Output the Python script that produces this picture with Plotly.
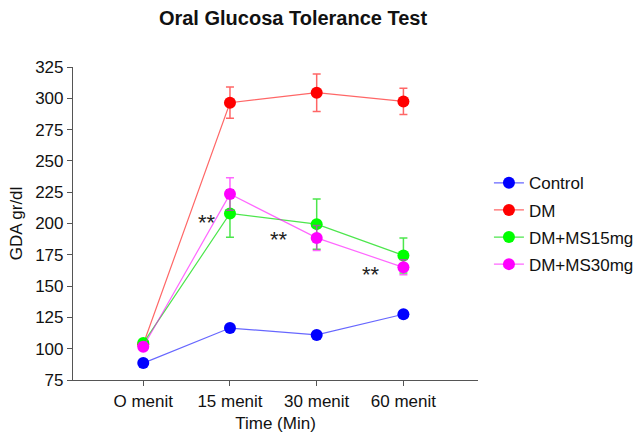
import plotly.graph_objects as go

categories = ["O menit", "15 menit", "30 menit", "60 menit"]
control = [88.5, 116.5, 111, 127.5]
dm = [103.5, 296.5, 304.5, 297.5]
dm_err = [0, 12.5, 15, 10.5]
ms15 = [104.5, 208, 199.5, 174.5]
ms15_err = [0, 19, 20, 14]
ms30 = [101.5, 223.5, 188.5, 165]
ms30_err = [0, 13, 10, 6]

star_x = [0.74, 1.56, 2.63]
star_y = [201, 187, 159]

y_ticks = [75, 100, 125, 150, 175, 200, 225, 250, 275, 300, 325]

series = [
    ("Control", control, None, "#0000ff", "rgba(0,0,255,0.6)"),
    ("DM", dm, dm_err, "#ff0000", "rgba(255,0,0,0.6)"),
    ("DM+MS15mg", ms15, ms15_err, "#00ff00", "rgba(0,220,0,0.7)"),
    ("DM+MS30mg", ms30, ms30_err, "#ff00ff", "rgba(255,0,255,0.6)"),
]

FONT = "Liberation Sans, Arial, Helvetica"
xi = list(range(len(categories)))
fig = go.Figure()
for name, vals, err, mc, lc in series:
    fig.add_trace(go.Scatter(
        x=xi, y=vals, name=name, legendgroup=name, mode="lines+markers",
        line=dict(color=lc, width=1.2),
        marker=dict(color=mc, size=12),
        error_y=dict(type="data", array=err, visible=True,
                     color=lc, thickness=1.5, width=4) if err else None,
    ))

for sx, sy in zip(star_x, star_y):
    fig.add_annotation(x=sx, y=sy, text="**", showarrow=False,
                       font=dict(size=22, color="#222", family=FONT))

fig.update_layout(
    width=644, height=434,
    margin=dict(l=73, r=166, t=67, b=54, autoexpand=False),
    plot_bgcolor="white", paper_bgcolor="white",
    font=dict(family=FONT, size=17, color="#111"),
    title=dict(text="<b>Oral Glucosa Tolerance Test</b>", x=0.455, xanchor="center",
               y=0.958, yanchor="middle", font=dict(size=20, family=FONT)),
    xaxis=dict(range=[-0.81, 3.86], tickvals=xi, ticktext=categories,
               showline=True, linecolor="#555", linewidth=1.2, ticks="outside",
               ticklen=5, tickcolor="#555", showgrid=False, zeroline=False,
               automargin=False, tickfont=dict(size=17),
               title=dict(text="Time (Min)", standoff=7, font=dict(size=17))),
    yaxis=dict(range=[75, 325], tickvals=y_ticks, showline=True, linecolor="#555",
               linewidth=1.2, ticks="outside", ticklen=5, tickcolor="#555",
               showgrid=False, zeroline=False, automargin=False,
               tickfont=dict(size=17),
               title=dict(text="GDA gr/dl", standoff=8, font=dict(size=17))),
    legend=dict(x=1.027, y=0.686, xanchor="left", yanchor="top",
                font=dict(size=17), tracegroupgap=2,
                bgcolor="rgba(0,0,0,0)"),
)
fig.write_html("out.html", config={"displayModeBar": False},
               post_script="document.body.style.margin='0';document.body.style.overflow='hidden';")
